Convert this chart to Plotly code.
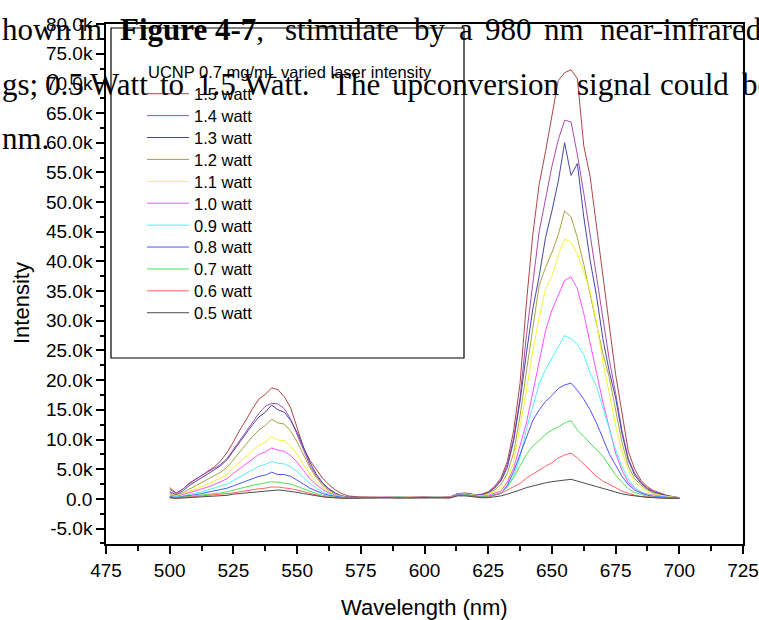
import plotly.graph_objects as go

# ---------------- data (intensity values in thousands of counts) ----------------
WAVELENGTH_NM = [
    500, 502.5, 505, 507.5, 510, 512.5, 515, 517.5, 520, 522.5, 525, 527.5, 530, 532.5, 535,
    537.5, 540, 542.5, 545, 547.5, 550, 552.5, 555, 557.5, 560, 562.5, 565, 567.5, 570,
    575, 580, 585, 590, 595, 600, 605, 610, 613, 616, 620,
    622.5, 625, 627.5, 630, 632.5, 635, 637.5, 640, 642.5, 645, 647.5, 650, 652.5, 655, 657.5,
    660, 662.5, 665, 667.5, 670, 672.5, 675, 677.5, 680, 682.5, 685, 687.5, 690, 692.5, 695,
    697.5, 700,
]

INT_1_5W = [
    1.9, 1.0, 1.6, 2.5, 3.2, 3.9, 4.6, 5.4, 6.4, 7.8, 9.6, 11.6, 13.3, 15.2, 16.8,
    17.6, 18.7, 18.4, 17.2, 15.3, 12.0, 8.7, 6.5, 4.9, 3.5, 2.4, 1.5, 0.9, 0.5,
    0.3, 0.25, 0.3, 0.2, 0.3, 0.25, 0.3, 0.3, 0.9, 1.0, 0.7,
    0.8, 1.2, 2.1, 3.5, 6.3, 11.5, 19.5, 33.0, 44.5, 53.0, 58.5, 64.5, 70.5, 71.8, 72.3,
    70.8, 59.5, 54.3, 46.0, 37.5, 28.5, 21.0, 14.5, 8.0, 5.0, 3.1, 2.0, 1.4, 1.0, 0.6,
    0.4, 0.2,
]
INT_1_4W = [
    1.6, 0.9, 1.6, 2.6, 3.3, 3.9, 4.5, 5.1, 5.8, 6.8, 8.3, 10.0, 11.5, 13.0, 14.4,
    15.6, 16.1, 16.0, 15.2, 13.4, 10.8, 8.0, 5.7, 3.9, 2.6, 1.6, 0.9, 0.5, 0.3,
    0.3, 0.2, 0.3, 0.25, 0.3, 0.2, 0.3, 0.3, 0.8, 0.9, 0.7,
    0.7, 1.1, 1.9, 3.2, 5.8, 10.2, 17.0, 27.5, 36.0, 45.0, 50.5, 56.0, 60.5, 63.8, 63.5,
    58.0, 51.5, 44.5, 36.8, 30.0, 23.5, 17.8, 11.5, 6.8, 4.3, 2.8, 1.8, 1.2, 0.8, 0.5,
    0.3, 0.2,
]
INT_1_3W = [
    1.2, 0.7, 1.3, 2.2, 2.9, 3.5, 4.2, 4.9, 5.6, 6.6, 8.1, 9.6, 11.0, 12.5, 13.8,
    14.6, 15.8, 15.0, 14.6, 13.2, 11.2, 8.6, 6.2, 4.2, 2.7, 1.7, 1.0, 0.5, 0.3,
    0.25, 0.3, 0.2, 0.3, 0.25, 0.3, 0.2, 0.3, 0.9, 0.9, 0.6,
    0.6, 1.0, 1.8, 3.0, 5.3, 9.8, 16.5, 24.5, 32.0, 37.5, 44.0, 48.5, 53.5, 60.0, 54.5,
    56.5, 47.5, 40.2, 34.2, 27.0, 21.5, 17.0, 11.0, 6.5, 4.0, 2.6, 1.7, 1.1, 0.8, 0.5,
    0.3, 0.2,
]
INT_1_2W = [
    1.0, 0.6, 1.0, 1.6, 2.2, 2.8, 3.3, 3.9, 4.5, 5.3, 6.6, 7.9, 9.2, 10.5, 11.6,
    12.4, 13.4, 12.8, 12.6, 11.4, 9.6, 7.4, 5.3, 3.6, 2.3, 1.4, 0.8, 0.4, 0.2,
    0.3, 0.2, 0.25, 0.3, 0.2, 0.3, 0.25, 0.2, 0.8, 0.9, 0.6,
    0.5, 0.9, 1.5, 2.4, 4.3, 7.8, 14.0, 21.5, 29.0, 36.0, 39.0, 41.5, 44.5, 48.5, 47.5,
    44.0, 39.5, 34.5, 29.5, 24.5, 20.5, 15.0, 9.5, 5.5, 3.4, 2.3, 1.5, 1.0, 0.7, 0.4,
    0.3, 0.2,
]
INT_1_1W = [
    0.8, 0.5, 0.8, 1.2, 1.6, 2.1, 2.5, 3.0, 3.5, 4.2, 5.2, 6.2, 7.3, 8.2, 9.0,
    9.6, 10.5, 9.9, 9.8, 8.9, 7.5, 5.8, 4.2, 2.9, 1.9, 1.2, 0.7, 0.4, 0.2,
    0.2, 0.3, 0.2, 0.25, 0.3, 0.2, 0.3, 0.25, 0.8, 0.8, 0.6,
    0.5, 0.8, 1.2, 1.8, 3.0, 6.3, 12.2, 18.2, 25.0, 30.5, 35.3, 37.5, 41.0, 43.8, 43.2,
    41.2, 38.2, 35.0, 29.8, 23.0, 17.8, 12.3, 7.9, 4.9, 2.8, 1.9, 1.2, 0.8, 0.6, 0.4,
    0.3, 0.2,
]
INT_1_0W = [
    0.7, 0.4, 0.7, 1.0, 1.3, 1.7, 2.0, 2.4, 2.9, 3.4, 4.3, 5.1, 5.9, 6.7, 7.5,
    7.9, 8.6, 8.2, 8.0, 7.3, 6.2, 4.8, 3.4, 2.4, 1.6, 1.0, 0.6, 0.3, 0.2,
    0.25, 0.2, 0.3, 0.2, 0.25, 0.3, 0.2, 0.25, 0.7, 0.8, 0.5,
    0.4, 0.6, 0.9, 1.3, 2.8, 5.2, 9.0, 12.8, 17.9, 23.4, 28.3, 31.8, 34.4, 36.8, 37.4,
    35.4, 31.2, 26.5, 21.3, 16.3, 12.2, 7.7, 4.8, 2.8, 1.8, 1.1, 0.8, 0.6, 0.4, 0.3,
    0.2, 0.2,
]
INT_0_9W = [
    0.5, 0.3, 0.5, 0.7, 1.0, 1.2, 1.5, 1.8, 2.1, 2.5, 3.1, 3.7, 4.4, 4.9, 5.5,
    5.8, 6.3, 6.0, 5.9, 5.4, 4.6, 3.6, 2.6, 1.8, 1.2, 0.8, 0.5, 0.3, 0.1,
    0.2, 0.25, 0.2, 0.3, 0.2, 0.25, 0.3, 0.2, 0.7, 0.8, 0.5,
    0.3, 0.5, 0.7, 1.0, 2.0, 3.9, 7.0, 11.8, 15.5, 19.4, 21.8, 23.8, 25.6, 27.5, 27.0,
    26.0, 24.3, 21.2, 19.0, 15.3, 11.6, 8.3, 5.4, 3.3, 1.9, 1.1, 0.7, 0.5, 0.4, 0.3,
    0.2, 0.1,
]
INT_0_8W = [
    0.4, 0.2, 0.4, 0.5, 0.7, 0.9, 1.1, 1.3, 1.5, 1.8, 2.2, 2.6, 3.0, 3.4, 3.8,
    4.0, 4.5, 4.1, 4.1, 3.8, 3.2, 2.5, 1.8, 1.3, 0.9, 0.6, 0.4, 0.2, 0.1,
    0.2, 0.2, 0.3, 0.2, 0.25, 0.2, 0.3, 0.2, 0.7, 0.7, 0.5,
    0.3, 0.4, 0.6, 0.9, 2.3, 4.6, 7.5, 10.5, 13.2, 15.0, 16.4, 17.4, 18.6, 19.2, 19.5,
    18.3, 16.8, 15.0, 12.8, 10.2, 7.6, 5.7, 3.8, 2.4, 1.5, 1.0, 0.6, 0.4, 0.3, 0.2,
    0.15, 0.1,
]
INT_0_7W = [
    0.3, 0.2, 0.3, 0.4, 0.5, 0.6, 0.7, 0.9, 1.0, 1.2, 1.5, 1.7, 2.0, 2.3, 2.5,
    2.7, 2.9, 2.8, 2.7, 2.5, 2.1, 1.7, 1.2, 0.9, 0.6, 0.4, 0.3, 0.2, 0.1,
    0.2, 0.2, 0.2, 0.25, 0.2, 0.2, 0.25, 0.2, 0.6, 0.7, 0.4,
    0.3, 0.4, 0.6, 1.0, 2.0, 3.6, 5.5, 7.5, 8.9, 9.8, 10.9, 11.6, 12.1, 12.8, 13.2,
    11.6, 10.5, 9.4, 8.3, 7.2, 5.6, 4.0, 2.8, 1.7, 1.1, 0.7, 0.4, 0.3, 0.2, 0.15,
    0.1, 0.1,
]
INT_0_6W = [
    0.2, 0.1, 0.2, 0.3, 0.35, 0.4, 0.5, 0.6, 0.7, 0.8, 1.0, 1.2, 1.4, 1.5, 1.7,
    1.8, 2.0, 2.0, 1.9, 1.7, 1.5, 1.2, 0.9, 0.6, 0.4, 0.3, 0.2, 0.1, 0.1,
    0.2, 0.15, 0.2, 0.2, 0.15, 0.2, 0.2, 0.2, 0.6, 0.6, 0.4,
    0.2, 0.3, 0.6, 1.0, 1.5, 2.0, 2.6, 3.5, 4.2, 4.9, 5.5, 6.1, 6.9, 7.4, 7.7,
    6.9, 5.9, 4.9, 3.8, 3.0, 2.5, 1.9, 1.3, 0.9, 0.6, 0.4, 0.3, 0.2, 0.15, 0.1,
    0.1, 0.1,
]
INT_0_5W = [
    0.2, 0.1, 0.15, 0.2, 0.3, 0.3, 0.4, 0.4, 0.5, 0.6, 0.8, 0.9, 1.0, 1.1, 1.2,
    1.2, 1.4, 1.5, 1.4, 1.3, 1.1, 0.9, 0.7, 0.5, 0.35, 0.25, 0.15, 0.1, 0.1,
    0.15, 0.15, 0.2, 0.15, 0.2, 0.15, 0.2, 0.15, 0.5, 0.5, 0.3,
    0.2, 0.2, 0.3, 0.5, 0.8, 1.1, 1.5, 1.9, 2.2, 2.5, 2.7, 2.9, 3.0, 3.2, 3.3,
    3.0, 2.7, 2.4, 2.1, 1.8, 1.5, 1.1, 0.85, 0.65, 0.5, 0.35, 0.25, 0.2, 0.1, 0.1,
    0.1, 0.1,
]

SERIES_NAMES = ["1.5 watt", "1.4 watt", "1.3 watt", "1.2 watt", "1.1 watt", "1.0 watt",
                "0.9 watt", "0.8 watt", "0.7 watt", "0.6 watt", "0.5 watt"]
SERIES_VALUES = [INT_1_5W, INT_1_4W, INT_1_3W, INT_1_2W, INT_1_1W, INT_1_0W,
                 INT_0_9W, INT_0_8W, INT_0_7W, INT_0_6W, INT_0_5W]
SERIES_COLORS = ["#ac4646", "#a84cb0", "#4646a8", "#a4a442", "#f4f436", "#ff52ff",
                 "#52f2f2", "#5252ff", "#52e052", "#ff6262", "#4c4c4c"]
VALUE_SCALE = 1000

X_TICK_VALUES = [475, 500, 525, 550, 575, 600, 625, 650, 675, 700, 725]
Y_TICK_VALUES = [-5000, 0, 5000, 10000, 15000, 20000, 25000, 30000, 35000, 40000,
                 45000, 50000, 55000, 60000, 65000, 70000, 75000, 80000]
Y_TICK_LABELS = ["-5.0k", "0.0", "5.0k", "10.0k", "15.0k", "20.0k", "25.0k", "30.0k",
                 "35.0k", "40.0k", "45.0k", "50.0k", "55.0k", "60.0k", "65.0k", "70.0k",
                 "75.0k", "80.0k"]

LEGEND_TITLE = "UCNP 0.7 mg/mL varied laser intensity"
X_TITLE = "Wavelength (nm)"
Y_TITLE = "Intensity"

# background document text visible in the scan (word, left pixel)
DOC_LINES = [
    (30, [("hown", 0), ("in", 76), ("<b>Figure</b>", 118), ("<b>4-7</b>,", 213),
          ("stimulate", 283), ("by", 412), ("a", 457), ("980", 483), ("nm", 542),
          ("near-infrared", 598)]),
    (84, [("gs;", 0), ("0.5", 43), ("Watt", 88), ("to", 158), ("1.5", 195),
          ("Watt.", 242), ("The", 330), ("upconversion", 390), ("signal", 575),
          ("could", 658), ("be", 740)]),
    (138, [("nm.", 0)]),
]

# ---------------- layout geometry ----------------
FIG_W, FIG_H = 759, 620
M_L, M_R, M_T, M_B = 106, 16, 24, 76
PW, PH = FIG_W - M_L - M_R, FIG_H - M_T - M_B


def px_x(px):
    return (px - M_L) / PW


def px_y(py):
    return (M_T + PH - py) / PH


SANS = "Liberation Sans, Arial, sans-serif"
SERIF = "Liberation Serif, Times New Roman, serif"

fig = go.Figure()

for i, (name, vals, color) in enumerate(zip(SERIES_NAMES, SERIES_VALUES, SERIES_COLORS)):
    key = "legend" if i == 0 else f"legend{i + 1}"
    fig.add_trace(go.Scatter(
        x=WAVELENGTH_NM,
        y=[v * VALUE_SCALE for v in vals],
        mode="lines",
        name=name,
        line=dict(color=color, width=1),
        legend=key,
    ))
    fig.update_layout({key: dict(
        x=px_x(142), y=px_y(94 + i * 21.9), xanchor="left", yanchor="middle",
        bgcolor="rgba(0,0,0,0)", borderwidth=0, itemwidth=42,
        font=dict(family=SANS, size=16.5, color="black"),
    )})

fig.update_layout(
    width=FIG_W, height=FIG_H,
    margin=dict(l=M_L, r=M_R, t=M_T, b=M_B, autoexpand=False),
    paper_bgcolor="white", plot_bgcolor="white",
    showlegend=True,
    font=dict(family=SANS, color="black"),
)

fig.update_xaxes(
    range=[475, 725], tickmode="array", tickvals=X_TICK_VALUES,
    ticks="outside", ticklen=8, tickwidth=1.5, tickcolor="black",
    showline=True, linewidth=1.5, linecolor="black", mirror=True,
    showgrid=False, zeroline=False,
    tickfont=dict(family=SANS, size=19, color="black"),
    minor=dict(tickmode="linear", tick0=475, dtick=12.5, ticks="outside",
               ticklen=5, tickwidth=1.5, tickcolor="black", showgrid=False),
)
fig.update_yaxes(
    range=[-7600, 80000], tickmode="array", tickvals=Y_TICK_VALUES, ticktext=Y_TICK_LABELS,
    ticks="outside", ticklen=8, tickwidth=1.5, tickcolor="black",
    showline=True, linewidth=1.5, linecolor="black", mirror=True,
    showgrid=False, zeroline=False,
    tickfont=dict(family=SANS, size=19, color="black"),
    minor=dict(tickmode="linear", tick0=0, dtick=2500, ticks="outside",
               ticklen=4, tickwidth=1.5, tickcolor="black", showgrid=False),
)

# legend frame
fig.add_shape(type="rect", xref="paper", yref="paper",
              x0=px_x(111), x1=px_x(464), y0=px_y(358), y1=px_y(28),
              line=dict(color="black", width=1.2), fillcolor="rgba(0,0,0,0)")

annotations = [
    dict(text=LEGEND_TITLE, xref="paper", yref="paper", x=px_x(146), y=px_y(72),
         xanchor="left", yanchor="middle", showarrow=False,
         font=dict(family=SANS, size=16.5, color="black")),
    dict(text=X_TITLE, xref="paper", yref="paper", x=0.5, y=px_y(607),
         xanchor="center", yanchor="middle", showarrow=False,
         font=dict(family=SANS, size=22, color="black")),
    dict(text=Y_TITLE, xref="paper", yref="paper", x=px_x(21), y=px_y(303),
         xanchor="center", yanchor="middle", textangle=-90, showarrow=False,
         font=dict(family=SANS, size=22, color="black")),
]
for center_y, words in DOC_LINES:
    for word, left in words:
        annotations.append(dict(
            text=word, xref="paper", yref="paper", x=px_x(left), y=px_y(center_y),
            xanchor="left", yanchor="middle", showarrow=False,
            font=dict(family=SERIF, size=31, color="black"),
        ))
fig.update_layout(annotations=annotations)

fig.write_html("out.html", config={"displayModeBar": False})
